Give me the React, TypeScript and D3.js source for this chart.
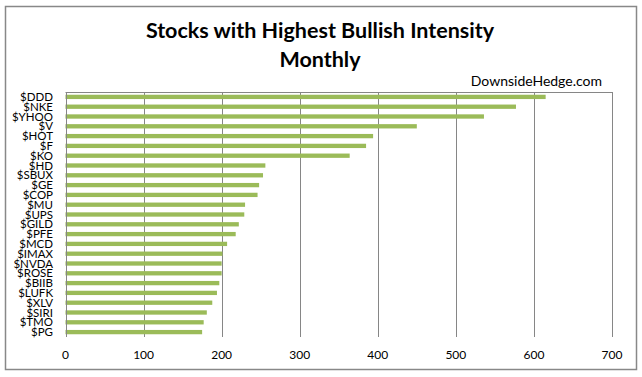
import React from "react";
import * as d3 from "d3";

const categories = ["$DDD","$NKE","$YHOO","$V","$HOT","$F","$KO","$HD","$SBUX","$GE","$COP","$MU","$UPS","$GILD","$PFE","$MCD","$IMAX","$NVDA","$ROSE","$BIIB","$LUFK","$XLV","$SIRI","$TMO","$PG"];
const values = [615,577,536,450,394,385,364,256,253,248,246,230,229,222,218,207,201,200,200,197,194,188,181,177,175];
const xTicks = [0,100,200,300,400,500,600,700];
const title1 = "Stocks with Highest Bullish Intensity";
const title2 = "Monthly";
const watermark = "DownsideHedge.com";

const W = 642, H = 377;
const plot = { left: 65.5, right: 612, top: 92, bottom: 337 };
const FONT = "Lato, 'Open Sans', sans-serif";

export default function App() {
  const x = d3.scaleLinear().domain([0, 700]).range([plot.left, plot.right]);
  const y = d3.scaleBand<string>().domain(categories).range([plot.top, plot.bottom]).paddingInner(0.56).paddingOuter(0.28);
  const grid = "#868686";
  return (
    <svg width={W} height={H} style={{ position: "absolute", left: 0, top: 0, background: "#fff" }}>
      <rect x={5.5} y={6.5} width={631} height={363} fill="#fff" stroke="#888" strokeWidth={1.5} />
      <text x={320} y={38} textAnchor="middle" fontFamily={FONT} fontWeight="bold" fontSize={21.5} fill="#000">{title1}</text>
      <text x={320} y={67} textAnchor="middle" fontFamily={FONT} fontWeight="bold" fontSize={21.5} fill="#000">{title2}</text>
      <text x={602} y={86} textAnchor="end" fontFamily={FONT} fontSize={14} fill="#000">{watermark}</text>
      {xTicks.map(t => (
        <line key={t} x1={Math.round(x(t)) + 0.5} x2={Math.round(x(t)) + 0.5} y1={plot.top} y2={plot.bottom} stroke={grid} strokeWidth={1} />
      ))}
      <line x1={plot.left} x2={plot.right} y1={plot.top + 0.5} y2={plot.top + 0.5} stroke={grid} strokeWidth={1} />
      {categories.map((c, i) => (
        <rect key={c} x={x(0)} y={y(c)!} width={x(values[i]) - x(0)} height={y.bandwidth()} fill="#9BBB59" />
      ))}
      <line x1={Math.round(x(0)) + 0.5} x2={Math.round(x(0)) + 0.5} y1={plot.top} y2={plot.bottom} stroke={grid} strokeWidth={1} />
      {categories.map(c => (
        <text key={c} x={53} y={y(c)! + y.bandwidth() / 2} dy="0.36em" textAnchor="end" fontFamily={FONT} fontSize={11.5} fill="#000">{c}</text>
      ))}
      {xTicks.map(t => (
        <text key={t} x={x(t)} y={355} dy="0.36em" textAnchor="middle" fontFamily={FONT} fontSize={12} fill="#000">{t}</text>
      ))}
    </svg>
  );
}
